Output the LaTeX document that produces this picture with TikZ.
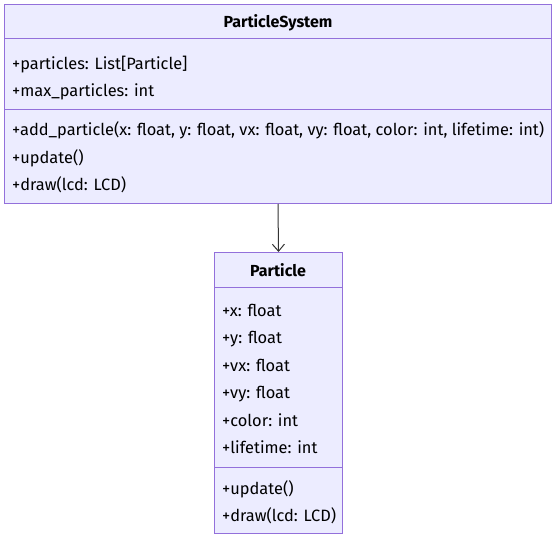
\documentclass[tikz,border=0pt]{standalone}
\usepackage{fontspec}
\setmainfont{Fira Sans}
\usetikzlibrary{arrows.meta}
\definecolor{boxfill}{HTML}{ECECFF}
\definecolor{boxline}{HTML}{9370DB}
\definecolor{edge}{HTML}{333333}
\tikzset{
  umlbox/.style={draw=boxline, fill=boxfill, line width=1pt, anchor=north west, inner sep=0pt},
  divider/.style={draw=boxline, line width=1pt},
  member/.style={anchor=mid west, inner sep=0pt, font=\fontsize{16.4}{19}\selectfont, text=black, yshift=-3.5pt},
  title/.style={anchor=mid, inner sep=0pt, font=\fontsize{16}{19}\selectfont\bfseries, text=black, yshift=-3pt},
  rel/.style={draw=edge, line width=1pt, -{Straight Barb[length=7pt,width=12pt]}}
}
\begin{document}
\begin{tikzpicture}[x=1pt,y=-1pt]
\useasboundingbox (0,0) rectangle (555,543);
% ParticleSystem
\node[umlbox, minimum width=547pt, minimum height=199pt] (ps) at (4,4) {};
\draw[divider] (4,39) -- (551,39);
\draw[divider] (4,110) -- (551,110);
\node[title] (pst) at (278,22) {ParticleSystem};
\node[member] (ps1) at (12,63) {+particles: List[Particle]};
\node[member] (ps2) at (12,90) {+max\_particles: int};
\node[member] (ps3) at (12,129) {+add\_particle(x: float, y: float, vx: float, vy: float, color: int, lifetime: int)};
\node[member] (ps4) at (12,157) {+update()};
\node[member] (ps5) at (12,184) {+draw(lcd: LCD)};
% Particle
\node[umlbox, minimum width=128pt, minimum height=281pt] (p) at (214,252) {};
\draw[divider] (214,287) -- (342,287);
\draw[divider] (214,467) -- (342,467);
\node[title] (pt) at (278,271) {Particle};
\node[member] (p1) at (222,310) {+x: float};
\node[member] (p2) at (222,337) {+y: float};
\node[member] (p3) at (222,365) {+vx: float};
\node[member] (p4) at (222,392) {+vy: float};
\node[member] (p5) at (222,420) {+color: int};
\node[member] (p6) at (222,447) {+lifetime: int};
\node[member] (p7) at (222,488) {+update()};
\node[member] (p8) at (222,515) {+draw(lcd: LCD)};
% relation
\draw[rel] (ps.south) -- (p.north);
\end{tikzpicture}
\end{document}
